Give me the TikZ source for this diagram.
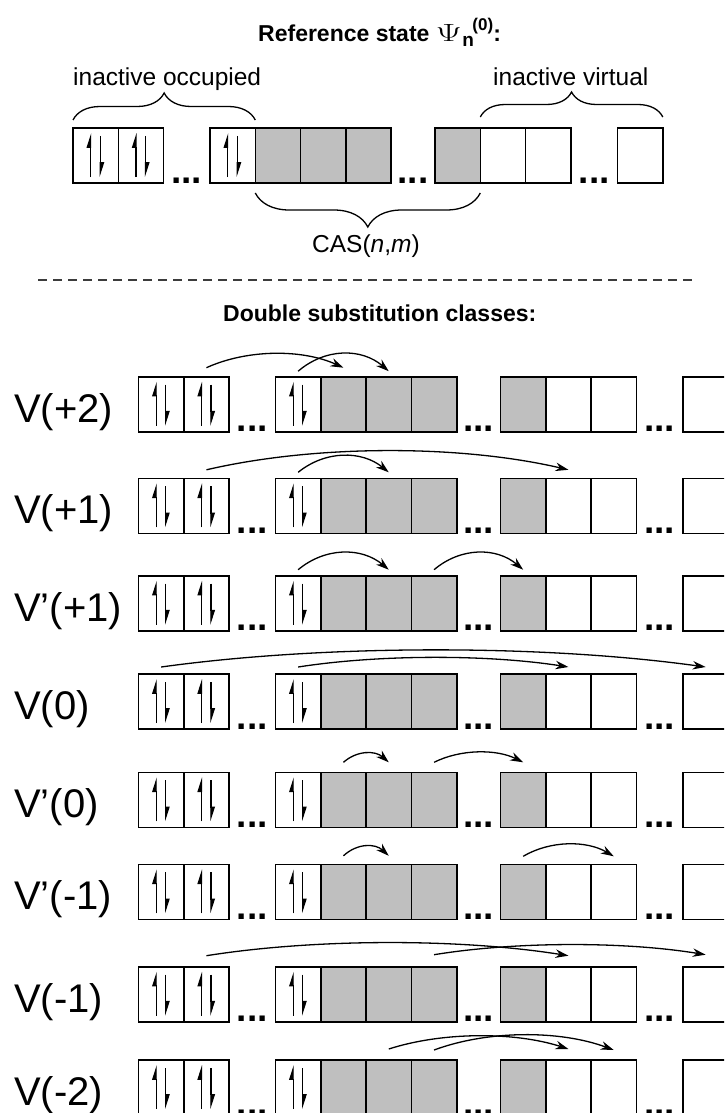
\documentclass[tikz,border=0pt]{standalone}
\usepackage{fontspec}
\setmainfont{Liberation Sans}
\usepackage{graphicx}
\usetikzlibrary{arrows.meta,decorations.pathreplacing,calc}
\definecolor{actgray}{RGB}{191,191,191}
\definecolor{sepgray}{RGB}{60,60,60}

% one row of orbitals: #1 prefix, #2 left x, #3 top y
\newcommand\orbrow[3]{%
  \foreach \k/\off/\col in {0/0/white,1/45.3/white,2/137/white,3/182.3/actgray,
      4/227.6/actgray,5/272.9/actgray,6/362/actgray,7/407.3/white,8/452.6/white,9/544.5/white}{
    \node[cellbox, fill=\col] (#1c\k) at ({#2+\off},#3) {};
  }
  \foreach \k in {0,1,2}{
    \draw[spin] ([xshift=-5pt,yshift=6pt]#1c\k.south) -- ([xshift=-5pt,yshift=-5pt]#1c\k.north);
    \draw[spin] ([xshift=4.5pt,yshift=-8pt]#1c\k.north) -- ([xshift=4.5pt,yshift=6pt]#1c\k.south);
  }
  \foreach \g/\n in {113.8/1,340.1/2,521.2/3}{
    \node[gapdots] (#1g\n) at ({#2+\g},{#3+55}) {...};
  }
}

% excitation arrow: #1 name, #2 row, #3 from cell, #4 to cell, #5 arc height, #6 lift
\newcommand\hop[6]{%
  \coordinate (#1s) at ($(r#2c#3.north)+(0,-#6)$);
  \coordinate (#1e) at ($(r#2c#4.north)+(0,-#6)$);
  \draw[hoparrow] (#1s) .. controls ($(#1s)!0.3!(#1e)+(0,{-#5*4/3})$)
      and ($(#1e)!0.3!(#1s)+(0,{-#5*4/3})$) .. (#1e);
}

\begin{document}
\begin{tikzpicture}[x=1pt,y=-1pt,
  cellbox/.style={draw=black, line width=1.6pt, minimum width=45.3pt,
    minimum height=55pt, inner sep=0pt, outer sep=0pt, anchor=north west},
  spin/.style={line width=1.1pt, -{Triangle[harpoon,length=13pt,width=8pt]}},
  hoparrow/.style={line width=1.3pt, -{Stealth[length=13pt,width=8.5pt]}},
  bracepath/.style={decorate, decoration={brace, amplitude=#1}, line width=1.3pt},
  gapdots/.style={anchor=base, inner sep=0pt, font=\fontsize{37}{37}\bfseries\selectfont},
  heading/.style={anchor=base west, inner sep=0pt, font=\fontsize{23}{27}\bfseries\selectfont},
  part/.style={anchor=base west, inner sep=0pt, font=\fontsize{24.5}{28}\selectfont},
  rowlabel/.style={anchor=base west, inner sep=0pt, font=\fontsize{40}{44}\selectfont},
  separator/.style={line width=1.2pt, draw=sepgray, dash pattern=on 9pt off 6pt}
]
\fill[white] (0,0) rectangle (724,1113);
\useasboundingbox (0,0) rectangle (724,1113);
\clip (0,0) rectangle (724,1113);

% reference state
\node[heading] (title) at (258,42) {Reference state
  \scalebox{1.45}[1]{\mdseries$\Psi$}\kern0.5pt\raisebox{-5pt}{\fontsize{19}{19}\selectfont n}\kern-1.5pt\raisebox{11pt}{\fontsize{17}{17}\selectfont (0)}:};
\orbrow{t}{73}{128}
\node[part] (occlabel) at (73,86) {inactive occupied};
\node[part] (virlabel) at (493,86) {inactive virtual};
\draw[bracepath=27] ($(tc0.north west)+(0,-8)$) -- ($(tc2.north east)+(0,-8)$);
\draw[bracepath=25] ($(tc7.north west)+(0,-11)$) -- ($(tc9.north east)+(0,-11)$);
\draw[bracepath=34] ($(tc6.south east)+(0,10)$) -- ($(tc3.south west)+(0,10)$);
\node[part] (caslabel) at (312,252) {CAS(\textit{n},\textit{m})};

\coordinate (sepL) at (38,280);
\coordinate (sepR) at (695,280);
\draw[separator] (sepL) -- (sepR);

% substitution classes
\node[heading] (classes) at (223,321) {Double substitution classes:};

\foreach \r/\y/\lab in {1/376.7/V(+2),2/478.3/V(+1),3/575.7/V’(+1),4/674/V(0),
    5/772.3/V’(0),6/864.3/V’(-1),7/966.7/V(-1),8/1060/V(-2)}{
  \orbrow{r\r}{138.5}{\y}
  \node[rowlabel] (lab\r) at (14,{\y+45.5}) {\lab};
}

\hop{a}{1}{1}{3}{14}{9}
\hop{b}{1}{2}{4}{17.5}{5.5}
\hop{c}{2}{1}{7}{19}{8.5}
\hop{d}{2}{2}{4}{16.5}{6}
\hop{e}{3}{2}{4}{17}{6}
\hop{f}{3}{5}{6}{17}{6}
\hop{g}{4}{0}{9}{17}{7}
\hop{h}{4}{2}{7}{9.5}{7}
\hop{i}{5}{3}{4}{9}{10}
\hop{j}{5}{5}{6}{10}{10}
\hop{k}{6}{3}{4}{9.5}{8.5}
\hop{l}{6}{6}{8}{12}{8}
\hop{m}{7}{1}{7}{13}{11}
\hop{n}{7}{5}{9}{10}{12}
\hop{o}{8}{4}{7}{13}{11}
\hop{p}{8}{5}{8}{15}{10}
\end{tikzpicture}
\end{document}
